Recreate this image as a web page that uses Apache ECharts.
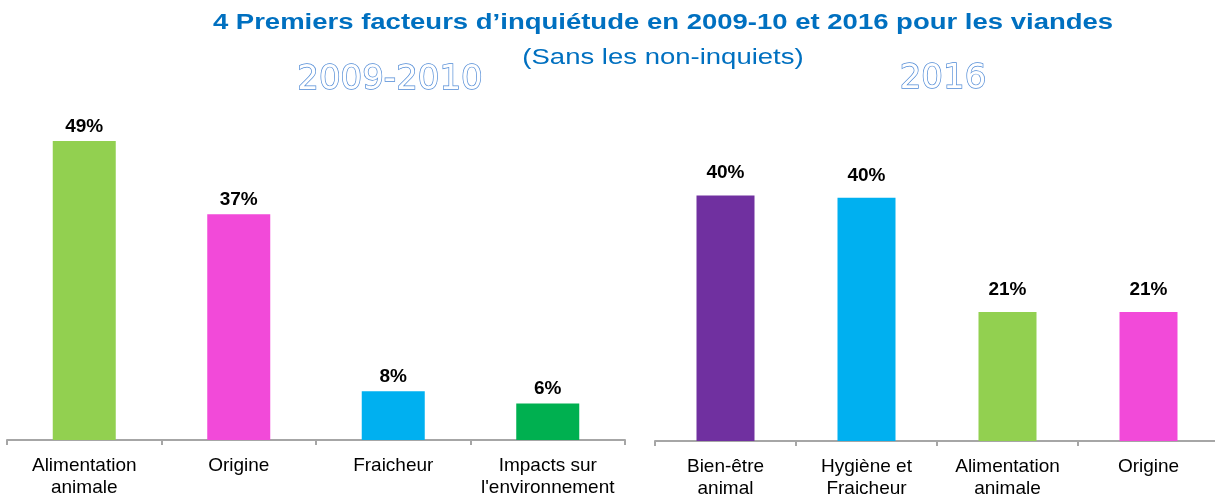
<!DOCTYPE html>
<html>
<head>
<meta charset="utf-8">
<script src="https://cdn.jsdelivr.net/npm/echarts@6/dist/echarts.min.js"></script>
<style>
  html, body { margin: 0; padding: 0; background: #fff; overflow: hidden; }
  #chart { width: 1224px; height: 500px; }
</style>
</head>
<body>
<div id="chart"></div>
<script>
// 2009-2010
var categories2009 = ['Alimentation\nanimale', 'Origine', 'Fraicheur', 'Impacts sur\nl\'environnement'];
var values2009 = [49, 37, 8, 6];
// 2016
var categories2016 = ['Bien-être\nanimal', 'Hygiène et\nFraicheur', 'Alimentation\nanimale', 'Origine'];
var values2016 = [40, 39.6, 21, 21];

// couleurs des barres
var colors2009 = ['#92d050', '#f24ad9', '#00b0f0', '#00b050'];
var colors2016 = ['#7030a0', '#00b0f0', '#92d050', '#f24ad9'];

var font = '"Liberation Sans", Arial, sans-serif';

function withColors(values, colors) {
  return values.map(function (v, i) {
    return { value: v, itemStyle: { color: colors[i] } };
  });
}

function xAxisOf(idx, cats) {
  return {
    type: 'category',
    gridIndex: idx,
    data: cats,
    axisLine: { lineStyle: { color: '#a6a6a6', width: 2 } },
    axisTick: { show: true, length: 5, lineStyle: { color: '#a6a6a6', width: 2 } },
    axisLabel: {
      color: '#000',
      fontFamily: font,
      fontSize: 19,
      lineHeight: 22,
      margin: 15,
      interval: 0
    }
  };
}

function yAxisOf(idx) {
  return {
    type: 'value',
    gridIndex: idx,
    min: 0,
    max: 50,
    show: false,
    splitLine: { show: false }
  };
}

function barLabel(dist) {
  return {
    show: true,
    position: 'top',
    distance: dist,
    color: '#000',
    fontFamily: font,
    fontWeight: 'bold',
    fontSize: 19,
    formatter: function (p) { return Math.round(p.value) + '%'; }
  };
}

function headText(txt, x, y, size, weight, sx) {
  return {
    type: 'text',
    x: x,
    y: y,
    scaleX: sx,
    style: {
      text: txt,
      x: 0, y: 0,
      align: 'center', verticalAlign: 'middle',
      font: weight + ' ' + size + 'px ' + font,
      fill: '#0070c0'
    }
  };
}

function yearText(txt, x, y) {
  return {
    type: 'text',
    style: {
      text: txt,
      x: x, y: y,
      align: 'center', verticalAlign: 'middle',
      font: '34px "DejaVu Sans", sans-serif',
      fill: '#fff',
      stroke: '#4f8ad6',
      lineWidth: 1.4
    }
  };
}

var chart = echarts.init(document.getElementById('chart'));
var option = {
  animation: false,
  backgroundColor: '#fff',
  grid: [
    { left: 7, top: 135, width: 618, height: 305 },
    { left: 655, top: 134, width: 564, height: 313 }
  ],
  xAxis: [xAxisOf(0, categories2009), xAxisOf(1, categories2016)],
  yAxis: [yAxisOf(0), yAxisOf(1)],
  series: [
    {
      type: 'bar',
      xAxisIndex: 0,
      yAxisIndex: 0,
      barWidth: 63,
      data: withColors(values2009, colors2009),
      label: barLabel(5)
    },
    {
      type: 'bar',
      xAxisIndex: 1,
      yAxisIndex: 1,
      barWidth: 58,
      data: withColors(values2016, colors2016),
      label: barLabel(13)
    }
  ],
  graphic: [
    headText('4 Premiers facteurs d\u2019inquiétude en 2009-10 et 2016 pour les viandes', 663, 23, 22, 'bold', 1.25),
    headText('(Sans les non-inquiets)', 663, 58, 22, 'normal', 1.25),
    yearText('2009-2010', 390, 80),
    yearText('2016', 943, 79)
  ]
};
chart.setOption(option);
</script>
</body>
</html>
